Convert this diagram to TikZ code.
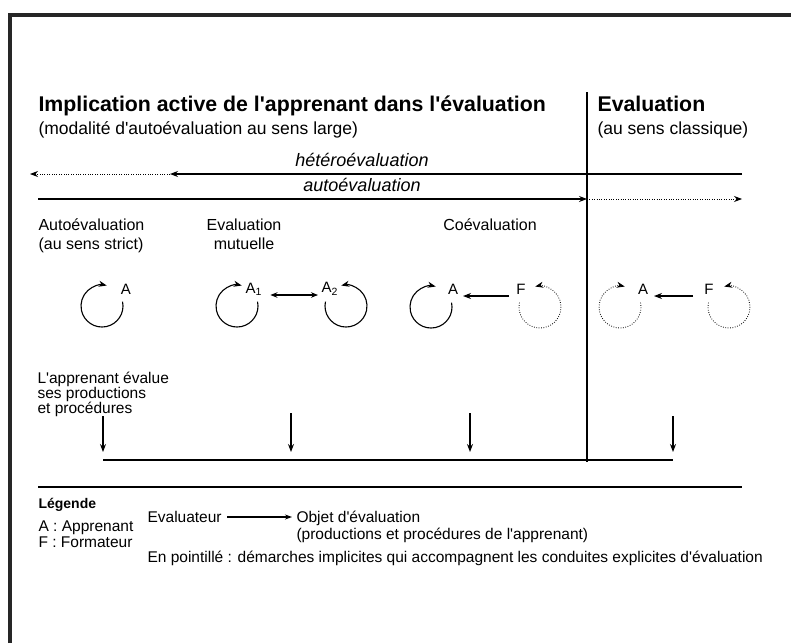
\documentclass[tikz,border=0pt]{standalone}
\usepackage{fontspec}
\setmainfont{Liberation Sans}[Ligatures=TeXOff]
\usetikzlibrary{arrows.meta,calc}
\begin{document}
\begin{tikzpicture}[x=1pt,y=-1pt,
  line width=1.1pt,
  arr/.style={-{Stealth[length=8pt,width=6pt]}},
  darr/.style={{Stealth[length=7pt,width=5.5pt]}-{Stealth[length=7pt,width=5.5pt]}},
  dots/.style={line width=0.8pt,dash pattern=on 0.8pt off 1.6pt},
  titl/.style={inner sep=0pt,anchor=base west,font=\fontsize{21.3}{25}\selectfont\bfseries},
  subt/.style={inner sep=0pt,anchor=base west,font=\fontsize{17.5}{21}\selectfont},
  ital/.style={inner sep=0pt,anchor=base,font=\fontsize{18}{22}\selectfont\itshape},
  body/.style={inner sep=0pt,anchor=base west,font=\fontsize{16}{19}\selectfont},
  bodyc/.style={inner sep=0pt,anchor=base,font=\fontsize{16}{19}\selectfont},
  lbl/.style={inner sep=1pt,font=\fontsize{15}{18}\selectfont},
  small/.style={inner sep=0pt,anchor=base west,font=\fontsize{15.5}{18}\selectfont},
]
\useasboundingbox (0,0) rectangle (791,643);
% frame
\draw[line width=4pt,black!85] (10,643) -- (10,15) -- (791,15);

% headings
\node[titl] (t1) at (38,111) {Implication active de l'apprenant dans l'évaluation};
\node[titl] (t2) at (597,111) {Evaluation};
\node[subt] (s1) at (38,134) {(modalité d'autoévaluation au sens large)};
\node[subt] (s2) at (597,134) {(au sens classique)};

% separator
\coordinate (vtop) at (587,92);
\coordinate (vbot) at (587,462);
\draw (vtop) -- (vbot);

% hetero / auto arrows
\node[ital] (het) at (362,166) {hétéroévaluation};
\node[ital] (aut) at (362,191) {autoévaluation};
\coordinate (h0) at (742,174);
\coordinate (h1) at (170,174);
\coordinate (h2) at (30,174);
\draw[arr] (h0) -- (h1);
\draw[dots,arr] (h1) -- (h2);
\coordinate (a0) at (38,199);
\coordinate (a1) at (587,199);
\coordinate (a2) at (742,199);
\draw[arr] (a0) -- (a1);
\draw[dots,arr] (a1) -- (a2);

% column headings
\node[body] (c1a) at (38,230) {Autoévaluation};
\node[body] (c1b) at (38,249) {(au sens strict)};
\node[bodyc] (c2a) at (244,230) {Evaluation};
\node[bodyc] (c2b) at (244,249) {mutuelle};
\node[bodyc] (c3a) at (490,230) {Coévaluation};

% loops
\node[lbl] (A1) at (126,289) {A};
\coordinate (L1) at (102,306);
\draw[arr] ($(L1)+(-12:21)$) arc[start angle=-12,end angle=283,radius=21];

\node[lbl,anchor=west,inner sep=0pt] (A2) at (245,289) {A\textsubscript{1}};
\coordinate (L2) at (237,306);
\draw[arr] ($(L2)+(-12:21)$) arc[start angle=-12,end angle=283,radius=21];
\node[lbl,anchor=west,inner sep=0pt] (A3) at (321,289) {A\textsubscript{2}};
\coordinate (L3) at (346,306);
\draw[arr] ($(L3)+(192:21)$) arc[start angle=192,end angle=-103,radius=21];
\draw[darr] ([xshift=8pt,yshift=-6pt]A2.east) -- ([xshift=-3pt,yshift=-6pt]A3.west);

\node[lbl] (A4) at (453,289) {A};
\coordinate (L4) at (431,307);
\draw[arr] ($(L4)+(-12:21)$) arc[start angle=-12,end angle=283,radius=21];
\node[lbl] (F4) at (521,289) {F};
\coordinate (L5) at (540,307);
\draw[dots,arr] ($(L5)+(192:21)$) arc[start angle=192,end angle=-103,radius=21];
\draw[arr] ([xshift=-12pt,yshift=-7pt]F4.center) -- ([xshift=10pt,yshift=-7pt]A4.center);

\node[lbl] (A6) at (643,289) {A};
\coordinate (L6) at (620,307);
\draw[dots,arr] ($(L6)+(-12:21)$) arc[start angle=-12,end angle=283,radius=21];
\node[lbl] (F6) at (709,289) {F};
\coordinate (L7) at (729,307);
\draw[dots,arr] ($(L7)+(192:21)$) arc[start angle=192,end angle=-103,radius=21];
\draw[arr] ([xshift=-16pt,yshift=-7pt]F6.center) -- ([xshift=11pt,yshift=-7pt]A6.center);

% learner text
\node[small] (ap1) at (37,383) {L'apprenant évalue};
\node[small] (ap2) at (37,398) {ses productions};
\node[small] (ap3) at (37,413) {et procédures};

% down arrows
\foreach \x/\t/\n in {103/416/d1,291/413/d2,470/413/d3,673/416/d4}{
  \coordinate (\n t) at (\x,\t);
  \coordinate (\n b) at (\x,452);
  \draw[arr] (\n t) -- (\n b);
}
\coordinate (bl) at (103,460);
\coordinate (br) at (673,460);
\draw (bl) -- (br);

\coordinate (rl) at (38,487);
\coordinate (rr) at (742,487);
\draw (rl) -- (rr);

% legend
\node[small,font=\fontsize{14}{17}\selectfont\bfseries] (leg) at (38,508) {Légende};
\node[small] (ev) at (147,522) {Evaluateur};
\node[small] (ob) at (296,522) {Objet d'évaluation};
\draw[-{Stealth[length=7pt,width=5pt]}] ([xshift=5pt,yshift=5pt]ev.base east) -- ([xshift=-4pt,yshift=5pt]ob.base west);
\node[small] (ob2) at (296,539) {(productions et procédures de l'apprenant)};
\node[small] (la) at (38,531) {A : Apprenant};
\node[small] (lf) at (38,547) {F : Formateur};
\node[small] (pt) at (147,562) {En pointillé : démarches implicites qui accompagnent les conduites explicites d'évaluation};
\end{tikzpicture}
\end{document}
